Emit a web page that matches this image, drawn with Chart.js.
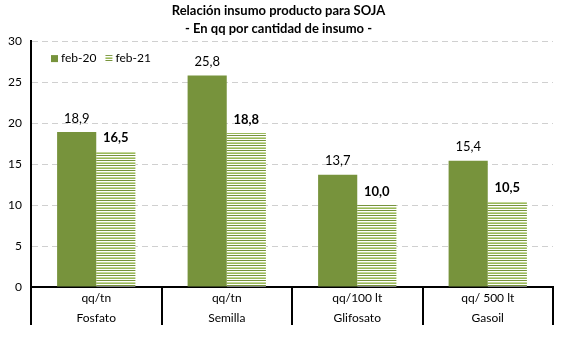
<!DOCTYPE html>
<html lang="es">
<head>
  <meta charset="UTF-8">
  <title>Relación insumo producto para SOJA</title>
  <script src="https://cdn.jsdelivr.net/npm/chart.js"></script>
  <style>
    html, body { margin: 0; padding: 0; background: #fff; }
  </style>
</head>
<body>
  <div style="width: 570px; height: 337px;">
    <canvas id="barChart"></canvas>
  </div>

  <script>
    const unidades = ['qq/tn', 'qq/tn', 'qq/100 lt', 'qq/ 500 lt'];
    const insumos = ['Fosfato', 'Semilla', 'Glifosato', 'Gasoil'];
    const feb20 = [18.9, 25.8, 13.7, 15.4];
    const feb21 = [16.5, 18.8, 10.0, 10.5];
    const yTicks = [0, 5, 10, 15, 20, 25, 30];

    const verde = '#77933c';
    const fuente = 'Lato, "Liberation Sans", sans-serif';

    // rayado horizontal para feb-21
    function rayado() {
      const c = document.createElement('canvas');
      c.width = 4; c.height = 5;
      const g = c.getContext('2d');
      g.fillStyle = '#ffffff'; g.fillRect(0, 0, 4, 5);
      g.fillStyle = verde; g.fillRect(0, 0, 4, 1);
      g.fillStyle = '#c4d79b'; g.fillRect(0, 2, 4, 1);
      g.fillStyle = '#9bbb59'; g.fillRect(0, 3, 4, 1);
      return g.createPattern(c, 'repeat');
    }
    const patron = rayado();

    // valores sobre las barras
    const etiquetas = {
      id: 'etiquetas',
      afterDatasetsDraw(chart) {
        const ctx = chart.ctx;
        ctx.save();
        ctx.textAlign = 'center';
        ctx.textBaseline = 'bottom';
        ctx.fillStyle = '#000';
        chart.data.datasets.forEach((ds, i) => {
          ctx.font = (i === 1 ? 'bold ' : '') + '13px ' + fuente;
          chart.getDatasetMeta(i).data.forEach((bar, j) => {
            const txt = ds.data[j].toFixed(1).replace('.', ',');
            ctx.fillText(txt, bar.x, bar.y - 7);
          });
        });
        ctx.restore();
      }
    };

    // leyenda dentro del área del gráfico
    const leyenda = {
      id: 'leyenda',
      afterDraw(chart) {
        const ctx = chart.ctx;
        const a = chart.chartArea;
        let x = a.left + 20;
        const y = a.top + 17;
        ctx.save();
        ctx.font = '12px ' + fuente;
        ctx.textBaseline = 'middle';
        ctx.fillStyle = '#000';
        chart.data.datasets.forEach(ds => {
          ctx.fillStyle = ds.backgroundColor;
          ctx.fillRect(x, y - 3, 7, 7);
          ctx.fillStyle = '#000';
          ctx.fillText(ds.label, x + 10, y);
          x += 10 + ctx.measureText(ds.label).width + 9;
        });
        ctx.restore();
      }
    };

    // separadores verticales entre categorías, debajo del eje
    const separadores = {
      id: 'separadores',
      afterDraw(chart) {
        const ctx = chart.ctx;
        const sx = chart.scales.x;
        ctx.save();
        ctx.strokeStyle = '#000';
        ctx.lineWidth = 2;
        ctx.beginPath();
        for (let i = 0; i <= insumos.length; i++) {
          const px = Math.round(sx.getPixelForValue(i - 0.5));
          ctx.moveTo(px, sx.top);
          ctx.lineTo(px, sx.top + 38);
        }
        ctx.stroke();
        ctx.restore();
      }
    };

    const data = {
      labels: unidades.map((u, i) => [u, insumos[i]]),
      datasets: [
        { label: 'feb-20', data: feb20, backgroundColor: verde },
        { label: 'feb-21', data: feb21, backgroundColor: patron }
      ]
    };

    const config = {
      type: 'bar',
      data: data,
      options: {
        responsive: true,
        maintainAspectRatio: false,
        animation: false,
        layout: { padding: { left: 4, right: 17, top: 0, bottom: 0 } },
        datasets: {
          bar: { categoryPercentage: 0.6, barPercentage: 1.0 }
        },
        plugins: {
          title: {
            display: true,
            text: ['Relación insumo producto para SOJA', '- En qq por cantidad de insumo -'],
            color: '#000',
            font: { family: fuente, size: 13, weight: 'bold', lineHeight: 1.35 },
            padding: { top: 2, bottom: 4 }
          },
          legend: { display: false },
          tooltip: { enabled: false }
        },
        scales: {
          x: {
            afterFit: (scale) => { scale.height = 50; },
            grid: { display: false, drawTicks: false },
            border: { display: true, color: '#000', width: 2 },
            ticks: {
              color: '#000',
              font: { family: fuente, size: 12, lineHeight: 1.6 },
              padding: 2
            }
          },
          y: {
            min: 0,
            max: 30,
            afterBuildTicks: (scale) => { scale.ticks = yTicks.map(v => ({ value: v })); },
            afterFit: (scale) => { scale.width = 27; },
            grid: {
              color: '#d0d0d0',
              lineWidth: 1,
              drawTicks: false
            },
            border: { display: true, color: '#000', width: 2, dash: [6, 4] },
            ticks: {
              color: '#000',
              font: { family: fuente, size: 12 },
              padding: 9
            }
          }
        }
      },
      plugins: [etiquetas, leyenda, separadores]
    };

    new Chart(document.getElementById('barChart'), config);
  </script>
</body>
</html>
